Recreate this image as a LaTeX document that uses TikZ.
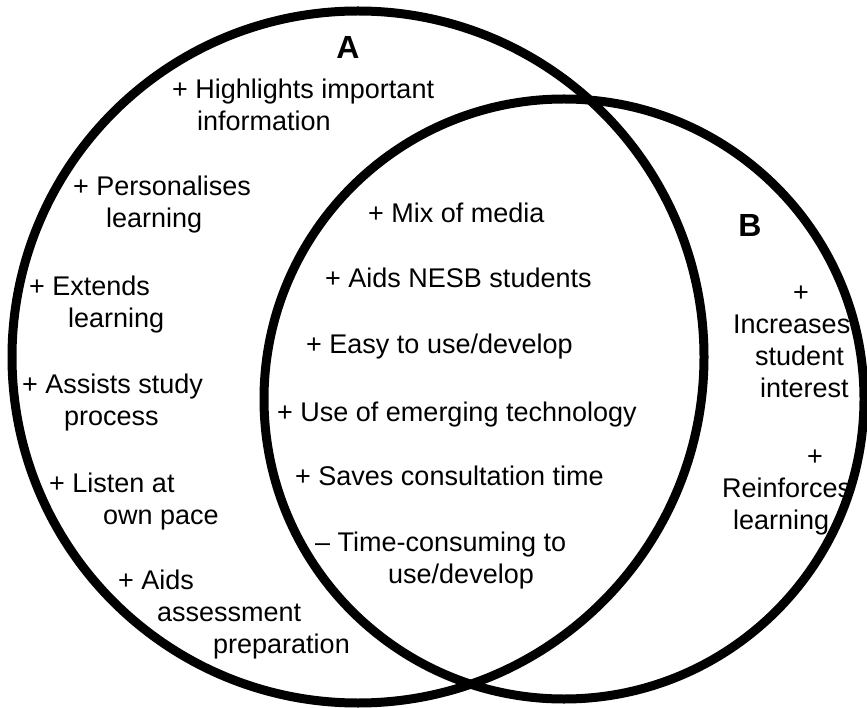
\documentclass[tikz,border=0pt]{standalone}
\usepackage{fontspec}
\setmainfont{Liberation Sans}
\begin{document}
\begin{tikzpicture}[x=1pt,y=-1pt,
  ring/.style={draw=black, line width=9pt},
  % multi-line entries are placed by the baseline of their last line
  entry/.style={inner sep=0pt, anchor=base west, align=left,
    font=\fontsize{27}{32}\selectfont},
  setname/.style={inner sep=0pt, anchor=base,
    font=\fontsize{32}{38}\selectfont\bfseries}]
\useasboundingbox (0,0) rectangle (867,708);

% the two sets
\draw[ring] (358,357) circle[radius=346pt];
\draw[ring] (564,399) circle[radius=300pt];

% set labels
\node[setname] (labA) at (348,59) {A};
\node[setname] (labB) at (750,237) {B};

% only in A
\node[entry] (hl) at (172,131) {+ Highlights important\\\hspace*{25pt}information};
\node[entry] (pers) at (73,228) {+ Personalises\\\hspace*{33pt}learning};
\node[entry] (ext) at (29,327) {+ Extends\\\hspace*{39pt}learning};
\node[entry] (study) at (22,425) {+ Assists study\\\hspace*{42pt}process};
\node[entry] (pace) at (49,524) {+ Listen at\\\hspace*{54pt}own pace};
\node[entry] (assess) at (118,653) {+ Aids\\\hspace*{39pt}assessment\\\hspace*{95pt}preparation};

% shared by A and B
\node[entry] (mix) at (368,223) {+ Mix of media};
\node[entry] (nesb) at (325,288) {+ Aids NESB students};
\node[entry] (easy) at (306,354) {+ Easy to use/develop};
\node[entry] (tech) at (277,421) {+ Use of emerging technology};
\node[entry] (saves) at (295,485) {+ Saves consultation time};
\node[entry] (timec) at (315,583) {– Time-consuming to\\\hspace*{73pt}use/develop};

% only in B
\node[entry] (interest) at (733,397) {\hspace*{60pt}+\\Increases\\\hspace*{22pt}student\\\hspace*{27pt}interest};
\node[entry] (reinf) at (722,529) {\hspace*{85pt}+\\Reinforces\\\hspace*{11pt}learning};
\end{tikzpicture}
\end{document}
